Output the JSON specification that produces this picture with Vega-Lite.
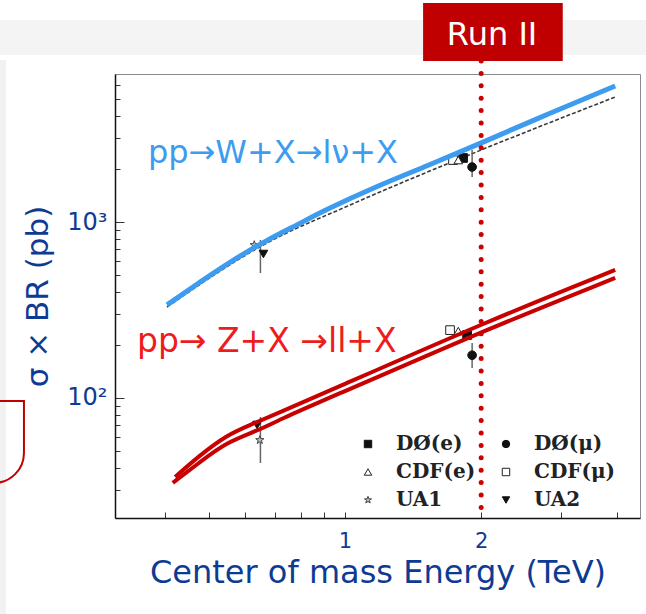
{
  "$schema": "https://vega.github.io/schema/vega-lite/v6.json",
  "autosize": "none",
  "width": 525,
  "height": 444,
  "padding": {"left": 115, "top": 74, "right": 6, "bottom": 96},
  "background": "white",
  "config": {
    "view": {"stroke": "#8a8a8a", "strokeWidth": 1},
    "font": "DejaVu Sans",
    "legend": {
      "orient": "none", "legendX": 243, "legendY": 360, "columns": 2, "direction": "horizontal",
      "labelFont": "DejaVu Serif", "labelFontWeight": "bold", "labelFontSize": 20, "labelColor": "#222",
      "symbolSize": 55, "symbolStrokeWidth": 1,
      "labelOffset": 18, "rowPadding": 8, "columnPadding": 20, "padding": 0, "labelLimit": 200
    }
  },
  "datasets": {
    "curves": [
      {"series": "W", "E": 0.404, "s": 338},
      {"series": "W", "E": 0.478, "s": 456},
      {"series": "W", "E": 0.565, "s": 608},
      {"series": "W", "E": 0.672, "s": 790},
      {"series": "W", "E": 0.795, "s": 980},
      {"series": "W", "E": 0.885, "s": 1140},
      {"series": "W", "E": 1.177, "s": 1601},
      {"series": "W", "E": 1.518, "s": 2080},
      {"series": "W", "E": 2.0, "s": 2811},
      {"series": "W", "E": 2.842, "s": 4163},
      {"series": "W", "E": 3.957, "s": 5926},
      {"series": "Wth", "E": 0.404, "s": 329},
      {"series": "Wth", "E": 0.672, "s": 760},
      {"series": "Wth", "E": 1.026, "s": 1249},
      {"series": "Wth", "E": 2.0, "s": 2565},
      {"series": "Wth", "E": 3.957, "s": 5131},
      {"series": "Zu", "E": 0.421, "s": 35.6},
      {"series": "Zu", "E": 0.478, "s": 47.4},
      {"series": "Zu", "E": 0.548, "s": 61.6},
      {"series": "Zu", "E": 0.616, "s": 70.2},
      {"series": "Zu", "E": 0.729, "s": 84.4},
      {"series": "Zu", "E": 0.88, "s": 104},
      {"series": "Zu", "E": 2.093, "s": 277},
      {"series": "Zu", "E": 3.957, "s": 534},
      {"series": "Zl", "E": 0.416, "s": 32.9},
      {"series": "Zl", "E": 0.478, "s": 43.3},
      {"series": "Zl", "E": 0.548, "s": 56.2},
      {"series": "Zl", "E": 0.639, "s": 64.9},
      {"series": "Zl", "E": 0.729, "s": 76.9},
      {"series": "Zl", "E": 0.88, "s": 94.9},
      {"series": "Zl", "E": 2.093, "s": 250},
      {"series": "Zl", "E": 3.957, "s": 481}
    ],
    "points": [
      {"exp": "UA1", "E": 0.63, "s": 740},
      {"exp": "UA2", "E": 0.66, "s": 658},
      {"exp": "DØ(e)", "E": 1.824, "s": 2311},
      {"exp": "DØ(μ)", "E": 1.91, "s": 2053},
      {"exp": "CDF(μ)", "E": 1.733, "s": 2249},
      {"exp": "CDF(e)", "E": 1.78, "s": 2249},
      {"exp": "UA1", "E": 0.648, "s": 57.7},
      {"exp": "UA2", "E": 0.639, "s": 70.3},
      {"exp": "DØ(e)", "E": 1.862, "s": 228},
      {"exp": "DØ(μ)", "E": 1.91, "s": 175},
      {"exp": "CDF(μ)", "E": 1.707, "s": 243},
      {"exp": "CDF(e)", "E": 1.78, "s": 240}
    ],
    "errors": [
      {"E": 0.65, "s": 513, "s2": 790},
      {"E": 1.91, "s": 1802, "s2": 2565},
      {"E": 0.65, "s": 42.7, "s2": 78},
      {"E": 1.91, "s": 148, "s2": 205}
    ],
    "labels": [
      {"reaction": "W", "text": "pp→W+X→lν+X", "E": 0.3665, "s": 2163},
      {"reaction": "Z", "text": "pp→ Z+X →ll+X", "E": 0.3467, "s": 182.5}
    ]
  },
  "encoding": {
    "x": {
      "field": "E", "type": "quantitative",
      "scale": {"type": "log", "domain": [0.31, 4.49], "nice": false, "zero": false},
      "axis": {
        "title": "Center of mass Energy (TeV)",
        "values": [0.4, 0.5, 0.6, 0.7, 0.8, 0.9, 1, 2, 3, 4],
        "labelExpr": "datum.value == 1 ? '1' : (datum.value == 2 ? '2' : '')",
        "grid": false, "tickSize": -6, "tickColor": "#333", "domainColor": "#111", "domainWidth": 1.5,
        "labelFont": "DejaVu Sans", "labelFontSize": 21, "labelColor": "#0d3b94", "labelPadding": 18,
        "labelFlush": false, "labelOverlap": false,
        "titleFont": "DejaVu Sans", "titleFontSize": 32, "titleFontWeight": "normal", "titleColor": "#0d3b94", "titlePadding": 6
      }
    },
    "y": {
      "field": "s", "type": "quantitative",
      "scale": {"type": "log", "domain": [20.8, 6934], "nice": false, "zero": false},
      "axis": {
        "title": "σ × BR (pb)",
        "values": [30, 40, 50, 60, 70, 80, 90, 100, 200, 300, 400, 500, 600, 700, 800, 900, 1000, 2000, 3000, 4000, 5000, 6000],
        "labelExpr": "datum.value == 100 ? '10²' : (datum.value == 1000 ? '10³' : '')",
        "grid": false,
        "tickSize": {"condition": {"test": "datum.value == 100 || datum.value == 1000", "value": -9}, "value": -5},
        "tickColor": "#333", "domainColor": "#111", "domainWidth": 1.5,
        "labelFont": "DejaVu Sans", "labelFontSize": 24, "labelColor": "#0d3b94", "labelPadding": 17,
        "labelFlush": false, "labelOverlap": false,
        "titleFont": "DejaVu Sans", "titleFontSize": 31, "titleFontWeight": "normal", "titleColor": "#0d3b94", "titlePadding": 12
      }
    }
  },
  "layer": [
    {
      "data": {"values": [{"E": 0.1, "E2": 10, "s": 14060, "s2": 8890}]},
      "mark": {"type": "rect", "fill": "#f4f4f4"},
      "encoding": {"x2": {"field": "E2"}, "y2": {"field": "s2"}}
    },
    {
      "data": {"values": [{"E": 0.1, "E2": 0.178, "s": 8318, "s2": 5}]},
      "mark": {"type": "rect", "fill": "#f2f2f2"},
      "encoding": {"x2": {"field": "E2"}, "y2": {"field": "s2"}}
    },
    {
      "data": {"values": [{"E": 0.1, "E2": 0.195, "s": 96.2, "s2": 32.9}]},
      "mark": {"type": "rect", "fill": "transparent", "stroke": "#c00000", "strokeWidth": 2, "cornerRadiusBottomRight": 30},
      "encoding": {"x2": {"field": "E2"}, "y2": {"field": "s2"}}
    },
    {
      "data": {"name": "curves"},
      "transform": [{"filter": "datum.series == 'Wth'"}],
      "mark": {"type": "line", "stroke": "#3a3a3a", "strokeWidth": 1.6, "strokeDash": [4, 2], "interpolate": "monotone"},
      "encoding": {}
    },
    {
      "data": {"name": "errors"},
      "mark": {"type": "rule", "stroke": "#666", "strokeWidth": 1.5},
      "encoding": {"y2": {"field": "s2"}}
    },
    {
      "data": {"name": "points"},
      "mark": {"type": "point", "strokeWidth": 1, "opacity": 1, "size": 75},
      "encoding": {
        "shape": {
          "field": "exp", "type": "nominal",
          "scale": {
            "domain": ["DØ(e)", "DØ(μ)", "CDF(e)", "CDF(μ)", "UA1", "UA2"],
            "range": ["square", "circle", "triangle-up", "square", "M0,-1L0.24,-0.32L0.95,-0.31L0.38,0.12L0.59,0.81L0,0.4L-0.59,0.81L-0.38,0.12L-0.95,-0.31L-0.24,-0.32Z", "triangle-down"]
          },
          "legend": {"title": null}
        },
        "fill": {
          "field": "exp", "type": "nominal",
          "scale": {
            "domain": ["DØ(e)", "DØ(μ)", "CDF(e)", "CDF(μ)", "UA1", "UA2"],
            "range": ["#111111", "#111111", "#ffffff", "#ffffff", "#bbbbbb", "#111111"]
          },
          "legend": {"title": null}
        },
        "stroke": {
          "field": "exp", "type": "nominal",
          "scale": {
            "domain": ["DØ(e)", "DØ(μ)", "CDF(e)", "CDF(μ)", "UA1", "UA2"],
            "range": ["#111111", "#111111", "#222222", "#222222", "#444444", "#111111"]
          },
          "legend": {"title": null}
        }
      }
    },
    {
      "data": {"name": "curves"},
      "transform": [{"filter": "datum.series == 'W'"}],
      "mark": {"type": "line", "stroke": "#3d9cf0", "strokeWidth": 5, "interpolate": "basis"},
      "encoding": {}
    },
    {
      "data": {"name": "curves"},
      "transform": [{"filter": "datum.series == 'Zu' || datum.series == 'Zl'"}],
      "mark": {"type": "line", "stroke": "#c80000", "strokeWidth": 4, "interpolate": "basis"},
      "encoding": {"detail": {"field": "series"}}
    },
    {
      "data": {"name": "labels"},
      "transform": [{"filter": "datum.reaction == 'W'"}],
      "mark": {"type": "text", "align": "left", "baseline": "alphabetic", "font": "DejaVu Sans", "fontSize": 32, "fill": "#3d9cf0"},
      "encoding": {"text": {"field": "text"}}
    },
    {
      "data": {"name": "labels"},
      "transform": [{"filter": "datum.reaction == 'Z'"}],
      "mark": {"type": "text", "align": "left", "baseline": "alphabetic", "font": "DejaVu Sans", "fontSize": 33, "fill": "#ee1c1c"},
      "encoding": {"text": {"field": "text"}}
    },
    {
      "data": {"values": [{"E": 2.0, "s": 8222, "s2": 22.5}]},
      "mark": {"type": "rule", "stroke": "#cc0000", "strokeWidth": 5, "strokeCap": "round", "strokeDash": [0, 12.4]},
      "encoding": {"y2": {"field": "s2"}}
    },
    {
      "data": {"values": [{"E": 1.488, "E2": 3.03, "s": 17540, "s2": 8222}]},
      "mark": {"type": "rect", "fill": "#c00000"},
      "encoding": {"x2": {"field": "E2"}, "y2": {"field": "s2"}}
    },
    {
      "data": {"values": [{"text": "Run II", "E": 2.114, "s": 10140}]},
      "mark": {"type": "text", "align": "center", "baseline": "alphabetic", "font": "DejaVu Sans", "fontSize": 32, "fill": "white"},
      "encoding": {"text": {"field": "text"}}
    }
  ]
}
